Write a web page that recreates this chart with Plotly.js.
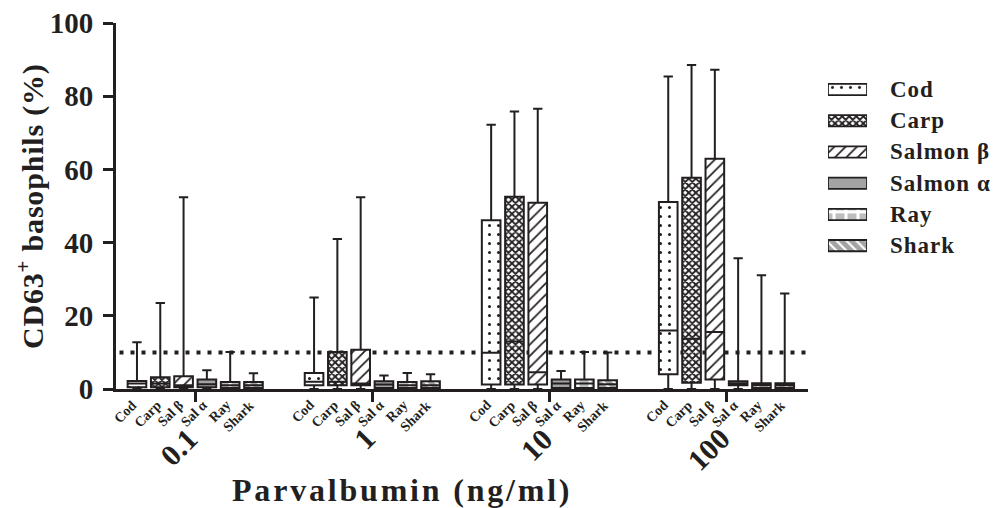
<!DOCTYPE html>
<html>
<head>
<meta charset="utf-8">
<script src="https://cdn.plot.ly/plotly-3.0.1.min.js"></script>
<style>html,body{margin:0;padding:0;background:#fff;}#chart{width:996px;height:508px;}</style>
</head>
<body>
<div id="chart"></div>
<script>
// ---- data ----
const concentrations = ['0.1', '1', '10', '100'];
const speciesNames = ['Cod', 'Carp', 'Salmon β', 'Salmon α', 'Ray', 'Shark'];
const speciesShort = ['Cod', 'Carp', 'Sal β', 'Sal α', 'Ray', 'Shark'];
// rows: species (order above); columns: concentrations
const whiskerLow = [
  [0, 0, 0, 0],
  [0, 0, 0, 0],
  [0, 0, 0, 0],
  [0, 0, 0, 0],
  [0, 0, 0, 0],
  [0, 0, 0, 0]
];
const quartile1 = [
  [0.5, 1.0, 1.2, 4.0],
  [0.5, 1.0, 1.2, 1.7],
  [0.5, 1.0, 1.2, 2.6],
  [0.5, 0.3, 0.3, 1.0],
  [0.3, 0.3, 0.3, 0.3],
  [0.3, 0.3, 0.3, 0.3]
];
const medians = [
  [1.5, 2.0, 9.9, 16.0],
  [1.5, 2.0, 13.0, 13.7],
  [1.0, 1.5, 4.6, 15.6],
  [1.3, 1.2, 1.5, 1.5],
  [1.0, 1.0, 1.5, 1.0],
  [1.0, 1.0, 1.3, 1.0]
];
const quartile3 = [
  [2.2, 4.4, 46.1, 51.1],
  [3.2, 10.1, 52.5, 57.7],
  [3.5, 10.7, 50.9, 62.9],
  [2.6, 2.1, 2.6, 2.1],
  [1.9, 1.9, 2.6, 1.6],
  [1.9, 2.1, 2.4, 1.6]
];
const whiskerHigh = [
  [12.8, 25.0, 72.2, 85.4],
  [23.5, 41.0, 75.8, 88.5],
  [52.4, 52.4, 76.6, 87.2],
  [5.1, 3.7, 4.9, 35.7],
  [10.1, 4.4, 10.1, 31.1],
  [4.3, 4.0, 10.0, 26.1]
];
const threshold = 10;
const yTicks = [0, 20, 40, 60, 80, 100];

// ---- styling ----
const INK = '#231f20';
const FONT = 'Liberation Serif';
const GROUP_STEP = 7.6;
const BOX_W = 0.8;
const patterns = [
  {shape: '.', fgcolor: INK, bgcolor: '#ffffff', size: 9, solidity: 0.09, fillmode: 'replace'},
  {shape: 'x', fgcolor: INK, bgcolor: '#ffffff', size: 5, solidity: 0.6, fillmode: 'replace'},
  {shape: '/', fgcolor: INK, bgcolor: '#ffffff', size: 8, solidity: 0.22, fillmode: 'replace'},
  {shape: '', fgcolor: INK, bgcolor: '#a3a3a3', size: 8, solidity: 0.3, fillmode: 'replace'},
  {shape: '+', fgcolor: '#ffffff', bgcolor: '#bdbdbd', size: 12, solidity: 0.45, fillmode: 'replace'},
  {shape: '\\', fgcolor: '#ffffff', bgcolor: '#a3a3a3', size: 7, solidity: 0.3, fillmode: 'replace'}
];
const solidColors = [null, null, null, '#a3a3a3', null, null];

function xPos(g, s) { return g * GROUP_STEP + (s - 2.5); }
function spaced(t, px) { return '<span style="letter-spacing:' + px + 'px">' + t + '</span>'; }

const traces = [];
// pattern fills of the boxes (bars from Q1 to Q3)
speciesNames.forEach((name, s) => {
  const xs = concentrations.map((c, g) => xPos(g, s));
  const pat = Object.assign({}, patterns[s]);
  const marker = {line: {width: 0}, pattern: pat};
  if (solidColors[s]) { marker.color = solidColors[s]; delete marker.pattern; }
  else { marker.color = pat.bgcolor; }
  traces.push({
    type: 'bar', x: xs,
    base: quartile1[s],
    y: quartile3[s].map((v, g) => v - quartile1[s][g]),
    width: BOX_W, marker: marker, showlegend: false, hoverinfo: 'skip',
    xaxis: 'x', yaxis: 'y'
  });
});
// box outlines, medians, whiskers
speciesNames.forEach((name, s) => {
  traces.push({
    type: 'box', name: name,
    x: concentrations.map((c, g) => xPos(g, s)),
    q1: quartile1[s], median: medians[s], q3: quartile3[s],
    lowerfence: whiskerLow[s], upperfence: whiskerHigh[s],
    width: BOX_W, whiskerwidth: 0.5, boxpoints: false,
    fillcolor: 'rgba(0,0,0,0)', line: {color: INK, width: 2},
    showlegend: false, hoverinfo: 'skip', xaxis: 'x', yaxis: 'y'
  });
});
// legend swatches
speciesNames.forEach((name, s) => {
  const pat = Object.assign({}, patterns[s]);
  const marker = {line: {width: 1.8, color: INK}, pattern: pat, color: pat.bgcolor};
  if (solidColors[s]) { marker.color = solidColors[s]; delete marker.pattern; }
  traces.push({
    type: 'bar', orientation: 'h', x: [1], y: [s], base: 0, width: 0.36,
    marker: marker, showlegend: false, hoverinfo: 'skip', xaxis: 'x2', yaxis: 'y2'
  });
});

const annotations = [];
speciesShort.forEach((lab, s) => {
  concentrations.forEach((c, g) => {
    annotations.push({
      text: lab, x: xPos(g, s), xref: 'x', y: 0, yref: 'paper',
      xanchor: 'right', yanchor: 'top', xshift: 6, yshift: -6, textangle: -45,
      showarrow: false, font: {family: FONT, size: 14, color: INK, weight: 'bold'}
    });
  });
});
concentrations.forEach((c, g) => {
  annotations.push({
    text: c, x: g * GROUP_STEP, xref: 'x', y: 0, yref: 'paper',
    xanchor: 'right', yanchor: 'top', xshift: 12, yshift: -30, textangle: -45,
    showarrow: false, font: {family: FONT, size: 30, color: INK, weight: 'bold'}
  });
});
speciesNames.forEach((name, s) => {
  annotations.push({
    text: spaced(name, 1), x: 1, xref: 'x2', y: s, yref: 'y2', xanchor: 'left', yanchor: 'middle',
    xshift: 21, showarrow: false, font: {family: FONT, size: 23, color: INK, weight: 'bold'}
  });
});
annotations.push({
  text: spaced('CD63<sup>+</sup> basophils (%)', 0.8), x: 0, xref: 'paper', y: 0.5, yref: 'paper',
  xanchor: 'center', yanchor: 'middle', xshift: -86, textangle: -90, showarrow: false,
  font: {family: FONT, size: 30, color: INK, weight: 'bold'}
});
annotations.push({
  text: spaced('Parvalbumin (ng/ml)', 2.8), x: 0.3326, xref: 'paper', y: 0, yref: 'paper',
  xanchor: 'center', yanchor: 'middle', yshift: -101, showarrow: false,
  font: {family: FONT, size: 32, color: INK, weight: 'bold'}
});

const layout = {
  width: 996, height: 508,
  margin: {l: 116, r: 20, t: 23, b: 119},
  paper_bgcolor: '#ffffff', plot_bgcolor: 'rgba(0,0,0,0)',
  barmode: 'overlay', boxmode: 'overlay',
  showlegend: false,
  font: {family: FONT, color: INK},
  xaxis: {
    domain: [0, 0.8047], range: [-3.4, 26.3],
    tickvals: concentrations.map((c, g) => g * GROUP_STEP),
    showticklabels: false, ticks: 'outside', ticklen: 10, tickwidth: 3, tickcolor: INK,
    showline: true, linewidth: 3, linecolor: INK, showgrid: false, zeroline: false
  },
  yaxis: {
    range: [0, 100], tickvals: yTicks, ticks: 'outside', ticklen: 10, tickwidth: 3,
    tickcolor: INK, showline: true, linewidth: 3, linecolor: INK, showgrid: false,
    zeroline: false, ticklabelstandoff: 4,
    tickfont: {family: FONT, size: 29, color: INK, weight: 'bold'}
  },
  xaxis2: {domain: [0.8279, 0.8733], range: [0, 1], visible: false, anchor: 'y2'},
  yaxis2: {domain: [0.349, 0.861], range: [5.5, -0.5], visible: false, anchor: 'x2'},
  shapes: [{
    type: 'line', xref: 'x', yref: 'y', x0: -3.25, x1: 26.3, y0: threshold, y1: threshold,
    line: {color: INK, width: 4, dash: '4px,7px'}, layer: 'below'
  }],
  annotations: annotations
};

Plotly.newPlot('chart', traces, layout, {displayModeBar: false, staticPlot: true});
</script>
</body>
</html>
